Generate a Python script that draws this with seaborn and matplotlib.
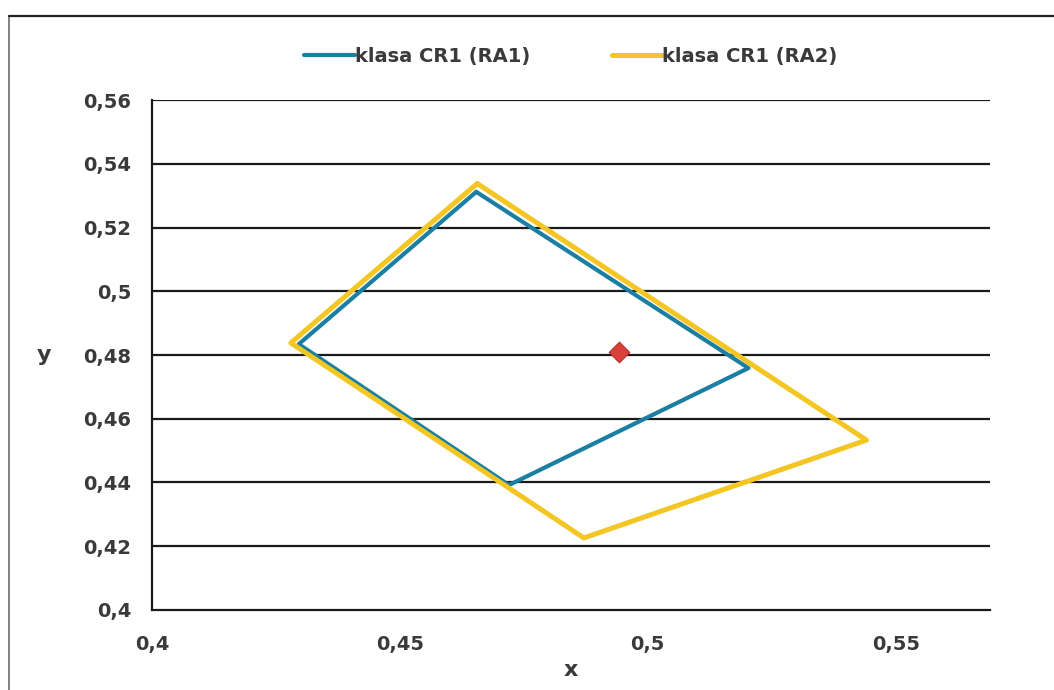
import numpy as np
import pandas as pd
import matplotlib
matplotlib.use("Agg")
import matplotlib.pyplot as plt
import seaborn as sns
from matplotlib.ticker import FuncFormatter
from matplotlib.lines import Line2D

# ----------------------------------------------------------
# Data
# ----------------------------------------------------------
ra1_x = [0.4654, 0.4296, 0.4720, 0.5203, 0.4654]
ra1_y = [0.5312, 0.4834, 0.4392, 0.4759, 0.5312]

ra2_x = [0.4656, 0.4280, 0.4871, 0.5441, 0.4656]
ra2_y = [0.5338, 0.4838, 0.4226, 0.4533, 0.5338]

point_x = [0.4942]
point_y = [0.4810]

labels = ["klasa CR1 (RA1)", "klasa CR1 (RA2)"]
colors = ["#1b7ea3", "#f3c623"]
widths = [3.0, 3.6]

x_ticks = [0.4, 0.45, 0.5, 0.55]
y_ticks = [0.40, 0.42, 0.44, 0.46, 0.48, 0.50, 0.52, 0.54, 0.56]

df = pd.DataFrame({
    "x": ra1_x + ra2_x,
    "y": ra1_y + ra2_y,
    "series": [labels[0]] * len(ra1_x) + [labels[1]] * len(ra2_x),
})

# ----------------------------------------------------------
# Plot
# ----------------------------------------------------------
sns.set_style("white")
plt.rcParams["font.family"] = ["DejaVu Sans"]
TXT = "#3a3a3a"

fig = plt.figure(figsize=(10.54, 6.9), dpi=100)
ax = fig.add_axes([0.1442, 0.116, 0.795, 0.739])

for lab, col, lw in zip(labels, colors, widths):
    sub = df[df["series"] == lab]
    sns.lineplot(data=sub, x="x", y="y", sort=False, estimator=None,
                 color=col, linewidth=lw, ax=ax, label=lab)

sns.scatterplot(x=point_x, y=point_y, marker="D", s=110, color="#d9413a",
                edgecolor="#b03030", linewidth=0.8, ax=ax, zorder=5)

ax.set_xlim(0.4, 0.569)
ax.set_ylim(0.4, 0.56)
ax.set_xticks(x_ticks)
ax.set_yticks(y_ticks)

comma = FuncFormatter(lambda v, p: f"{v:g}".replace(".", ","))
ax.xaxis.set_major_formatter(comma)
ax.yaxis.set_major_formatter(comma)

for yv in y_ticks[1:]:
    ax.axhline(yv, color="#1a1a1a", linewidth=1.6, zorder=0)

for s in ["top", "right"]:
    ax.spines[s].set_visible(False)
for s in ["left", "bottom"]:
    ax.spines[s].set_color("#1a1a1a")
    ax.spines[s].set_linewidth(1.6)

ax.tick_params(axis="both", direction="out", length=6, width=1.4,
               color="#1a1a1a", labelsize=14, labelcolor=TXT, pad=9)
ax.tick_params(axis="x", pad=12)
for t in ax.get_xticklabels() + ax.get_yticklabels():
    t.set_fontweight("bold")

ax.set_xlabel("x", fontsize=16, fontweight="bold", color=TXT, labelpad=4)
ax.set_ylabel("y", fontsize=16, fontweight="bold", color=TXT,
              rotation=0, labelpad=28, va="center")

leg = ax.legend(loc="upper center", bbox_to_anchor=(0.5, 1.138), ncol=2,
                frameon=False, fontsize=14, handlelength=2.6, handletextpad=0.0,
                columnspacing=4.2)
for t in leg.get_texts():
    t.set_fontweight("bold")
    t.set_color(TXT)

# outer chart border (left grey edge, dark top edge)
fig.add_artist(Line2D([0.009, 0.009], [0.0, 0.977], transform=fig.transFigure,
                      color="#808080", linewidth=1.4))
fig.add_artist(Line2D([0.009, 1.0], [0.977, 0.977], transform=fig.transFigure,
                      color="#222222", linewidth=1.6))

fig.savefig("out.png", dpi=100)
